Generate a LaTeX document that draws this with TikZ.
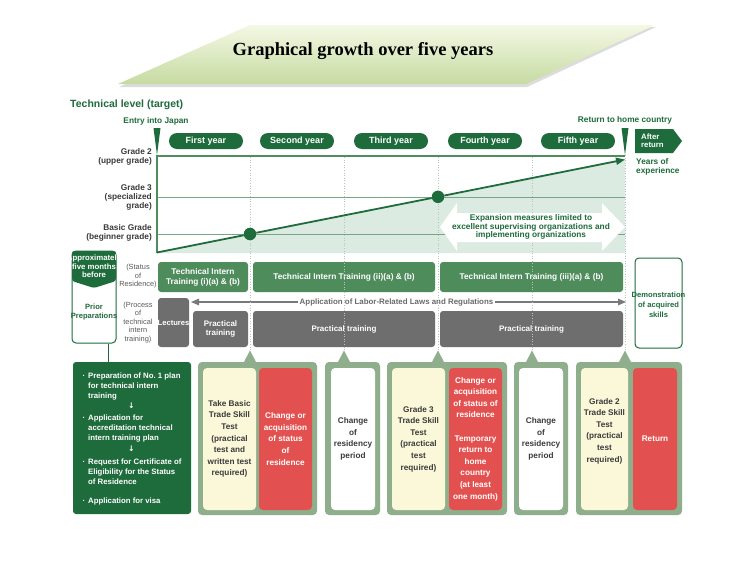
\documentclass[tikz,border=0pt]{standalone}
\usepackage{fontspec}
\setmainfont{Liberation Sans}
\newfontfamily\titlefont{Liberation Serif}
\newfontfamily\symfont{DejaVu Sans}
\usetikzlibrary{arrows.meta}
\definecolor{dg}{HTML}{1E6B3C}
\definecolor{mg}{HTML}{4F8C5B}
\definecolor{gb}{HTML}{6E6E6E}
\definecolor{shadec}{HTML}{DCEBE1}
\definecolor{sage}{HTML}{8FAE8B}
\definecolor{cream}{HTML}{FBF8DA}
\definecolor{rd}{HTML}{E2514F}
\definecolor{txt}{HTML}{3A3A3A}
\definecolor{sidec}{HTML}{5A5A5A}
\definecolor{dotc}{HTML}{B5C5B5}
\definecolor{gl}{HTML}{78A684}
\definecolor{bordc}{HTML}{4F8D5E}
\definecolor{titletop}{HTML}{F4F8E4}
\definecolor{titlebot}{HTML}{C6DBA2}
\definecolor{labc}{HTML}{6A6A6A}
\newcommand\fs[2]{\fontsize{#1}{#2}\selectfont}
\begin{document}
\begin{tikzpicture}[x=1pt,y=-1pt,
  every node/.style={inner sep=0pt},
  pill/.style={fill=dg, rounded corners=8pt, minimum width=74pt, minimum height=16pt, text=white, font=\bfseries\fs{9}{10}},
  status/.style={fill=mg, rounded corners=3pt, minimum height=30pt, text=white, font=\bfseries\fs{8.3}{10}, align=center},
  greybox/.style={fill=gb, rounded corners=3pt, text=white, font=\bfseries\fs{8}{9.5}, align=center},
  frame/.style={fill=sage, rounded corners=4pt, minimum height=153pt},
  inbox/.style={rounded corners=4pt, minimum height=142pt, font=\bfseries\fs{8.2}{11.6}, align=center},
  gtxt/.style={font=\bfseries\fs{8.3}{9}, text=dg},
  side/.style={font=\fs{7.4}{8.5}, text=sidec, align=center},
  grade/.style={font=\bfseries\fs{8.3}{9}, text=txt, align=right, anchor=east},
  dotline/.style={draw=dotc, line width=0.8pt, dash pattern=on 1pt off 1.6pt},
]
\useasboundingbox (0,0) rectangle (755,581);
\fill[white] (0,0) rectangle (755,581);

% ---- title
\fill[black!30, opacity=0.45] (251,27) -- (656,27) -- (527,87) -- (119,87) -- cycle;
\shade[top color=titletop, bottom color=titlebot] (250,25) -- (655,25) -- (526,84) -- (118,84) -- cycle;
\node[font=\titlefont\bfseries\fs{18.5}{20}] (title) at (363,51) {Graphical growth over five years};

% ---- header texts
\node[anchor=west, font=\bfseries\fs{10.5}{12}, text=dg] (techlevel) at (70,105) {Technical level (target)};
\node[gtxt] (entry) at (156,121) {Entry into Japan};
\node[gtxt] (returnhome) at (625,120) {Return to home country};
\fill[dg] (153.5,128) -- (160.5,128) -- (157,155) -- cycle;
\fill[dg] (621.5,128) -- (628.5,128) -- (625,155) -- cycle;

\node[pill] (y1) at (206,141) {First year};
\node[pill] (y2) at (297,141) {Second year};
\node[pill] (y3) at (391,141) {Third year};
\node[pill] (y4) at (485,141) {Fourth year};
\node[pill] (y5) at (578,141) {Fifth year};

\fill[dg] (635,129) -- (673,129) -- (682,141) -- (673,153) -- (635,153) -- cycle;
\node[anchor=west, text=white, font=\bfseries\fs{7.8}{8}, align=left] (after) at (641,141) {After\\return};
\node[anchor=north west, gtxt, align=left] (years) at (636,158) {Years of\\experience};

% ---- grade labels
\node[grade] (g2) at (152,156.5) {Grade 2\\(upper grade)};
\node[grade] (g3) at (152,197) {Grade 3\\(specialized\\grade)};
\node[grade] (gb) at (152,232.5) {Basic Grade\\(beginner grade)};

% ---- chart
\fill[shadec] (157,252.5) -- (625,159.5) -- (625,253) -- (157,253) -- cycle;
\draw[gl, line width=0.8pt] (157,197) -- (625,197);
\draw[gl, line width=0.8pt] (157,234) -- (625,234);
\foreach \x in {250,344,438,532} {\draw[dotline] (\x,157) -- (\x,253);}
\draw[dotline] (625,155) -- (625,253);
\draw[bordc, line width=1.6pt] (625,156) -- (157,156) -- (157,253);

\fill[white] (440,227) -- (457,203) -- (457,213) -- (602,213) -- (602,203) -- (625,227) -- (602,251) -- (602,242) -- (457,242) -- (457,251) -- cycle;
\node[font=\bfseries\fs{8.3}{8.6}, text=dg, align=center] (expand) at (531,227) {Expansion measures limited to\\excellent supervising organizations and\\implementing organizations};

\coordinate (lstart) at (157,252.5);
\coordinate (lend) at (625,159.5);
\node[circle, fill=dg, minimum size=12.5pt] (dot1) at (250,234) {};
\node[circle, fill=dg, minimum size=12.5pt] (dot2) at (438,196.8) {};
\draw[dg, line width=1.8pt] (lstart) -- (dot1);
\draw[dg, line width=1.8pt] (dot1) -- (dot2);
\draw[dg, line width=1.8pt, -{Triangle[length=9pt,width=7pt]}] (dot2) -- (lend);

% ---- prior preparations
\node[draw=dg, line width=1pt, rounded corners=4pt, minimum width=44pt, minimum height=92pt] (prior) at (94,297) {};
\fill[dg, rounded corners=2.5pt] (72,281) -- (72,251) -- (116,251) -- (116,281) -- (94,288) -- cycle;
\node[text=white, font=\bfseries\fs{7.8}{8.5}, align=center] (approx) at (94,266.5) {Approximately\\five months\\before};
\node[font=\bfseries\fs{7.6}{8.5}, text=dg, align=center] (priortext) at (94,312) {Prior\\Preparations};

\node[side] (statlbl) at (138,276.5) {(Status\\of\\Residence)};
\node[side] (proclbl) at (138,322.5) {(Process\\of\\technical\\intern\\training)};

% ---- status of residence
\node[status, minimum width=90pt] (s1) at (203,277) {Technical Intern\\Training (i)(a) \& (b)};
\node[status, minimum width=182pt] (s2) at (344,277) {Technical Intern Training (ii)(a) \& (b)};
\node[status, minimum width=183pt] (s3) at (531.5,277) {Technical Intern Training (iii)(a) \& (b)};

% ---- labor law arrow
\coordinate (labL) at (191,302);
\coordinate (labR) at (626,302);
\node[fill=white, inner xsep=2pt, inner ysep=1pt, font=\bfseries\fs{7.9}{9}, text=labc] (labor) at (396.5,302) {Application of Labor-Related Laws and Regulations};
\draw[labc!90, line width=1.3pt, -{Triangle[length=8pt,width=6.5pt]}] (labor.west) -- (labL);
\draw[labc!90, line width=1.3pt, -{Triangle[length=8pt,width=6.5pt]}] (labor.east) -- (labR);

% ---- process
\node[greybox, minimum width=31pt, minimum height=49pt] (lect) at (173.5,322.5) {};
\node[text=white, font=\bfseries\fs{7.6}{9}] (lecttext) at (173.5,322.5) {Lectures};
\node[greybox, minimum width=55pt, minimum height=36pt] (p1) at (220.5,329) {Practical\\training};
\node[greybox, minimum width=182pt, minimum height=36pt] (p2) at (344,329) {Practical training};
\node[greybox, minimum width=183pt, minimum height=36pt] (p3) at (531.5,329) {Practical training};

\foreach \x in {250,344,438,532} {\draw[dotline] (\x,253) -- (\x,350);}
\draw[dotline] (625,253) -- (625,350);

% ---- demonstration
\node[draw=dg, line width=1pt, rounded corners=4pt, minimum width=47pt, minimum height=90pt] (demo) at (658.5,303) {};
\node[font=\bfseries\fs{7.6}{10}, text=dg, align=center] (demotext) at (658.5,305) {Demonstration\\of acquired\\skills};

% ---- bottom row
\node[fill=dg, rounded corners=3pt, minimum width=118pt, minimum height=152pt] (prep) at (132,438) {};
\draw[dg, line width=1pt] ([xshift=14pt]prior.south) -- ([xshift=14pt]prior.south |- prep.north);
\node[anchor=west, text=white, font=\bfseries\fs{7.8}{10}, align=left] (preptext) at (88,439) {%
\llap{·\hspace{3pt}}Preparation of No.~1 plan\\
for technical intern\\
training\\
\hspace*{40pt}{\symfont ↓}\\[2pt]
\llap{·\hspace{3pt}}Application for\\
accreditation technical\\
intern training plan\\[1pt]
\hspace*{40pt}{\symfont ↓}\\[3pt]
\llap{·\hspace{3pt}}Request for Certificate of\\
Eligibility for the Status\\
of Residence\\[9pt]
\llap{·\hspace{3pt}}Application for visa};

\foreach \x in {250,344,438,532,625} {\fill[sage] (\x-6.5,363) -- (\x,350.5) -- (\x+6.5,363) -- cycle;}

\node[frame, minimum width=119pt] (f1) at (257.5,438.5) {};
\node[frame, minimum width=55pt] (f2) at (352.5,438.5) {};
\node[frame, minimum width=120pt] (f3) at (447,438.5) {};
\node[frame, minimum width=54pt] (f4) at (541,438.5) {};
\node[frame, minimum width=106pt] (f5) at (629,438.5) {};

\node[inbox, fill=cream, text=txt, minimum width=53pt] (c1) at (229.5,439) {Take Basic\\Trade Skill\\Test\\(practical\\test and\\written test\\required)};
\node[inbox, fill=rd, text=white, minimum width=53pt] (r1) at (285.5,439) {Change or\\acquisition\\of status\\of\\residence};
\node[inbox, fill=white, text=txt, minimum width=44pt] (w2) at (353,439) {Change\\of\\residency\\period};
\node[inbox, fill=cream, text=txt, minimum width=53pt] (c3) at (418.5,439) {Grade 3\\Trade Skill\\Test\\(practical\\test\\required)};
\node[inbox, fill=rd, text=white, minimum width=53pt] (r3) at (475.5,439) {Change or\\acquisition\\of status of\\residence\\[11.6pt]Temporary\\return to\\home\\country\\(at least\\one month)};
\node[inbox, fill=white, text=txt, minimum width=44pt] (w4) at (541,439) {Change\\of\\residency\\period};
\node[inbox, fill=cream, minimum width=47pt] (c5) at (604.5,439) {};
\node[font=\bfseries\fs{8.2}{11.6}, align=center, text=txt] (c5text) at (604.5,431) {Grade 2\\Trade Skill\\Test\\(practical\\test\\required)};
\node[inbox, fill=rd, text=white, minimum width=44pt] (r5) at (655,439) {Return};
\end{tikzpicture}
\end{document}
